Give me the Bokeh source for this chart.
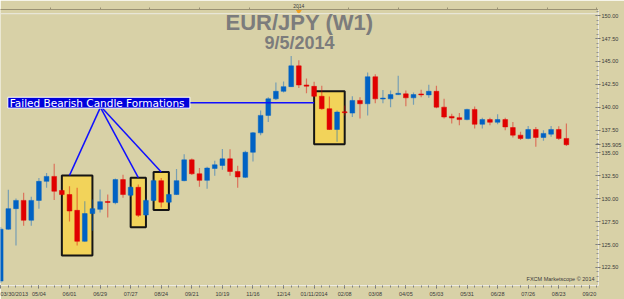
from bokeh.plotting import figure
from bokeh.models import (Range1d, LinearAxis, FixedTicker, CustomJSTickFormatter,
                          Label, Span, ColumnDataSource)
from bokeh.core.properties import value
from bokeh.embed import file_html
from bokeh.resources import INLINE

# ---------------- data (weekly EUR/JPY candles, index 0 = week of 03/30/2013) ----
week_index = list(range(75))
opens = [121.00, 126.68, 128.92, 129.82, 127.65, 129.82, 131.90, 132.44, 130.90, 130.46,
         128.73, 125.35, 128.38, 128.84, 129.70, 129.57, 132.09, 130.39, 131.25, 128.23,
         129.82, 131.98, 129.63, 130.46, 131.98, 134.25, 132.73, 132.01, 133.31, 133.64,
         134.36, 132.98, 132.34, 135.08, 137.20, 139.11, 140.92, 141.74, 142.25, 144.52,
         142.43, 142.28, 141.20, 139.84, 137.57, 139.50, 139.36, 140.74, 140.38, 143.33,
         140.90, 140.92, 141.38, 141.46, 141.03, 141.45, 141.35, 141.74, 140.01, 139.00,
         138.86, 138.65, 139.76, 138.14, 138.65, 138.36, 138.65, 137.78, 136.95, 136.59,
         137.57, 136.70, 137.06, 137.57, 136.59]
highs = [126.90, 130.98, 130.03, 130.65, 130.22, 132.27, 132.81, 133.82, 131.00, 131.37,
         131.19, 129.74, 129.92, 131.00, 130.46, 132.20, 132.63, 131.40, 131.55, 130.00,
         132.10, 132.27, 130.60, 133.24, 134.86, 134.40, 133.35, 133.50, 134.14, 135.44,
         135.41, 133.60, 135.25, 137.30, 139.65, 141.09, 142.71, 142.82, 145.60, 145.14,
         143.15, 142.79, 142.36, 141.17, 139.65, 140.20, 141.20, 141.09, 143.79, 143.60,
         141.89, 141.82, 143.44, 141.82, 141.60, 141.92, 142.46, 142.36, 140.92, 139.30,
         139.36, 139.84, 140.09, 138.86, 138.86, 139.22, 138.86, 138.39, 137.31, 137.96,
         137.85, 137.49, 137.96, 137.92, 138.22]
lows = [120.80, 126.60, 124.88, 127.04, 127.04, 128.92, 131.19, 129.85, 130.36, 127.50,
        124.88, 125.30, 126.50, 128.49, 127.95, 129.40, 130.10, 130.20, 128.00, 128.10,
        129.70, 129.03, 129.50, 130.40, 131.90, 132.60, 131.30, 131.08, 132.52, 133.17,
        132.52, 131.19, 132.27, 134.06, 136.95, 138.39, 140.80, 141.60, 142.20, 142.10,
        141.52, 141.10, 139.73, 137.50, 136.23, 139.11, 138.93, 138.76, 139.11, 140.44,
        140.44, 140.01, 141.35, 140.12, 140.27, 141.09, 141.03, 139.90, 138.76, 138.22,
        138.03, 138.57, 137.68, 137.68, 138.03, 138.14, 137.49, 136.70, 136.41, 136.50,
        135.69, 136.33, 136.77, 136.41, 135.76]
closes = [126.68, 128.92, 129.82, 127.65, 129.82, 131.90, 132.44, 130.82, 130.46, 128.66,
          125.35, 128.38, 128.92, 129.68, 129.60, 132.09, 130.46, 131.25, 128.19, 129.82,
          131.98, 129.63, 130.46, 131.98, 134.25, 132.73, 132.01, 133.35, 133.71, 134.36,
          132.98, 132.38, 135.08, 137.20, 139.11, 140.92, 141.74, 142.25, 144.52, 142.43,
          142.30, 141.20, 139.84, 137.57, 139.47, 139.40, 140.74, 140.38, 143.33, 140.92,
          141.00, 141.38, 141.52, 141.03, 141.38, 141.35, 141.74, 140.01, 138.93, 138.82,
          138.65, 139.76, 138.14, 138.65, 138.36, 138.65, 137.85, 136.95, 136.59, 137.57,
          136.70, 137.14, 137.57, 136.59, 135.905]
last_price = 135.905

# date axis
tick_index = [0, 5, 9, 13, 17, 21, 25, 29, 33, 37, 41, 45, 49, 53, 57, 61, 65, 69, 73, 77]
tick_labels = ["03/30/2013", "05/04", "06/01", "06/29", "07/27", "08/24", "09/21", "10/19",
               "11/16", "12/14", "01/11/2014", "02/08", "03/08", "04/05", "05/03", "05/31",
               "06/28", "07/26", "08/23", "09/20"]
minor_week_ticks = list(range(79))
top_ticks = [6.5, 13, 19.5, 26, 32.5, 39, 45.5, 52, 58.5, 65, 71.5, 78]
top_year_tick = 39
top_year_label = "2014"

# price axis
price_ticks = [122.5, 125.0, 127.5, 130.0, 132.5, 135.0, 137.5, 140.0, 142.5, 145.0, 147.5, 150.0]
price_minor = [120.5 + 0.5 * k for k in range(61)]

# highlighted candle groups
box_left = [8, 17, 20, 41]
box_right = [12, 19, 22, 45]
box_top = [132.55, 132.30, 132.92, 141.74]
box_bottom = [123.79, 126.89, 128.77, 135.95]

# annotation
note_text = "Failed Bearish Candle Formations"
note_left, note_right, note_top, note_bottom = 0.93, 24.75, 141.09, 139.90
line_x0 = [13.0, 13.1, 13.3, 24.75]
line_y0 = [139.90, 139.90, 139.90, 140.50]
line_x1 = [9.0, 18.0, 21.0, 41.0]
line_y1 = [132.55, 132.30, 132.92, 140.50]

title1 = "EUR/JPY (W1)"
title2 = "9/5/2014"
credit = "FXCM Marketscope \u00a9 2014"

# ---------------- styling ----------------
BG = "#d8d1a7"
RED = "#e00000"
BLUE = "#0062c4"
FONT = "Liberation Sans"

x0, x1 = -0.026, 78.2
y0, y1 = 120.52, 150.68

p = figure(width=624, height=299, x_range=Range1d(x0, x1), y_range=Range1d(y0, y1),
           output_backend="svg", toolbar_location=None, y_axis_location="right",
           min_border_left=0, min_border_right=24, min_border_top=8, min_border_bottom=12,
           background_fill_color=BG, border_fill_color=BG, outline_line_color=None)
p.grid.visible = False

# bottom date axis
xa = p.xaxis[0]
xa.ticker = FixedTicker(ticks=tick_index, minor_ticks=minor_week_ticks)
xa.major_label_overrides = {t: l for t, l in zip(tick_index, tick_labels)}
xa.major_label_text_font = FONT
xa.major_label_text_font_size = "5.5px"
xa.major_label_text_color = "#3a3a3a"
xa.major_label_standoff = 2
xa.axis_line_color = "#ecebe4"
xa.major_tick_line_color = "#707070"
xa.minor_tick_line_color = "#808080"
xa.major_tick_out = 3
xa.major_tick_in = 0
xa.minor_tick_out = 2
xa.minor_tick_in = 0

# right price axis (with the last price shown as an extra tick)
ya = p.yaxis[0]
ya.ticker = FixedTicker(ticks=price_ticks + [last_price], minor_ticks=price_minor)
ya.formatter = CustomJSTickFormatter(
    args=dict(last=last_price),
    code="return Math.abs(tick - last) < 0.0005 ? tick.toFixed(3) : tick.toFixed(2);")
ya.major_label_text_font = FONT
ya.major_label_text_font_size = "5.5px"
ya.major_label_text_color = "#3a3a3a"
ya.major_label_standoff = 1
ya.axis_line_color = "#ecebe4"
ya.major_tick_line_color = "#707070"
ya.minor_tick_line_color = "#909090"
ya.major_tick_out = 2
ya.major_tick_in = 3
ya.minor_tick_out = 0
ya.minor_tick_in = 2

# top axis with year marker
ta = LinearAxis(ticker=FixedTicker(ticks=top_ticks, minor_ticks=[]),
                formatter=CustomJSTickFormatter(
                    args=dict(yt=top_year_tick, yl=top_year_label),
                    code="return Math.abs(tick - yt) < 0.01 ? yl : '';"))
ta.major_label_text_font = FONT
ta.major_label_text_font_size = "5px"
ta.major_label_text_color = "#3a3a3a"
ta.major_label_standoff = 0
ta.axis_line_color = "#9a9274"
ta.major_tick_line_color = "#9a9274"
ta.major_tick_out = 2
ta.major_tick_in = 0
p.add_layout(ta, "above")

# frame top light line
p.add_layout(Span(location=150.22, dimension="width", line_color="#ecebe4", line_width=1))
p.scatter(x=[top_year_tick], y=[150.50], marker="inverted_triangle", size=5,
          fill_color="#f0a020", line_color="#f0a020")

# boxes
p.quad(left=box_left, right=box_right, top=box_top, bottom=box_bottom,
       fill_color="#f2d35a", line_color="#151515", line_width=2)

# candles
colors = [BLUE if c >= o else RED for o, c in zip(opens, closes)]
src = ColumnDataSource(dict(
    x=week_index, o=opens, h=highs, l=lows, c=closes,
    top=[max(o, c) for o, c in zip(opens, closes)],
    bot=[min(o, c) for o, c in zip(opens, closes)],
    col=colors))
p.segment(x0="x", y0="l", x1="x", y1="h", source=src, line_color="col",
          line_alpha=0.45, line_width=1.2)
p.vbar(x="x", width=0.62, top="top", bottom="bot", source=src,
       fill_color="col", line_color="col", line_width=0.5)

# annotation lines and label
p.segment(x0=line_x0, y0=line_y0, x1=line_x1, y1=line_y1, line_color="#1010ff", line_width=1.5)
p.quad(left=[note_left], right=[note_right], top=[note_top], bottom=[note_bottom],
       fill_color="#0000dc", line_color="white", line_width=1)
p.text(x=[note_left + 0.25], y=[(note_top + note_bottom) / 2], text=[note_text],
       text_color="white", text_font=value("DejaVu Sans"), text_font_size="10.5px",
       text_baseline="middle", text_align="left")

# titles
xm = (x0 + x1) / 2
p.add_layout(Label(x=xm, y=149.25, text=title1, text_align="center", text_baseline="alphabetic",
                   text_font=FONT, text_font_size="22px", text_font_style="bold",
                   text_color="#7c7c7c"))
p.add_layout(Label(x=xm, y=147.05, text=title2, text_align="center", text_baseline="alphabetic",
                   text_font=FONT, text_font_size="18px", text_font_style="bold",
                   text_color="#7c7c7c"))

# credit
p.add_layout(Label(x=77.68, y=121.2, text=credit, text_align="right", text_baseline="middle",
                   text_font=FONT, text_font_size="5.5px", text_color="#3a3a3a"))

open("out.html", "w").write(file_html(p, INLINE))
